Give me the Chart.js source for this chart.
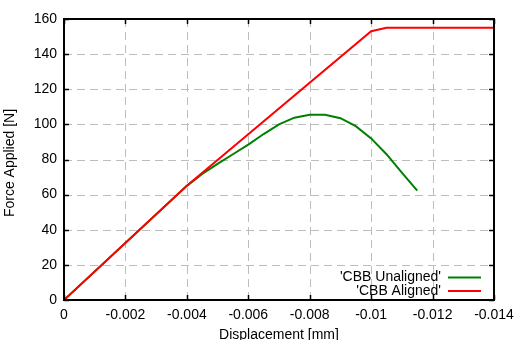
<!DOCTYPE html>
<html>
<head>
<meta charset="utf-8">
<script src="https://cdn.jsdelivr.net/npm/chart.js@4/dist/chart.umd.min.js"></script>
<style>
html,body{margin:0;padding:0;background:#fff;}
#wrap{width:515px;height:340px;position:relative;}
</style>
</head>
<body>
<div id="wrap"><canvas id="c" width="515" height="340"></canvas></div>
<script>
// ---- data ----
const seriesNames = ["'CBB Unaligned'", "'CBB Aligned'"];
const unalignedDisp = [0, -0.004, -0.0045, -0.005, -0.0055, -0.006, -0.0065, -0.007, -0.0075, -0.008, -0.0085, -0.009, -0.0095, -0.01, -0.0105, -0.011, -0.0115];
const unalignedForce = [0, 65, 71.8, 77.5, 83, 88.5, 94.5, 100, 103.8, 105.5, 105.5, 103.5, 99, 92, 83, 72.5, 62.3];
const alignedDisp = [0, -0.004, -0.01, -0.0105, -0.014];
const alignedForce = [0, 65, 153, 155, 155];
const xTickValues = [0, -0.002, -0.004, -0.006, -0.008, -0.01, -0.012, -0.014];
const xTickLabels = ["0", "-0.002", "-0.004", "-0.006", "-0.008", "-0.01", "-0.012", "-0.014"];
const yTickValues = [0, 20, 40, 60, 80, 100, 120, 140, 160];
const yTickLabels = ["0", "20", "40", "60", "80", "100", "120", "140", "160"];
const xTitle = "Displacement [mm]";
const yTitle = "Force Applied [N]";

const FONT = "'Liberation Sans', Arial, sans-serif";
const FSIZE = 14;
const colors = ["#008000", "#ff0000"];

function pts(xs, ys){ return xs.map((x,i)=>({x:x, y:ys[i]})); }

const gridPlugin = {
  id: 'dashgrid',
  beforeDatasetsDraw(chart){
    const ctx = chart.ctx, a = chart.chartArea;
    const xs = chart.scales.x, ys = chart.scales.y;
    ctx.save();
    ctx.strokeStyle = '#bdbdbd';
    ctx.lineWidth = 1;
    ctx.setLineDash([8, 5]);
    xTickValues.forEach(v=>{
      const px = Math.round(xs.getPixelForValue(v)) + 0.5;
      if (px < a.left + 2 || px > a.right - 2) return;
      ctx.beginPath(); ctx.moveTo(px, a.bottom); ctx.lineTo(px, a.top); ctx.stroke();
    });
    yTickValues.forEach(v=>{
      const py = Math.round(ys.getPixelForValue(v)) + 0.5;
      if (py < a.top + 2 || py > a.bottom - 2) return;
      ctx.beginPath(); ctx.moveTo(a.left, py); ctx.lineTo(a.right, py); ctx.stroke();
    });
    ctx.restore();
  }
};

const framePlugin = {
  id: 'frame',
  afterDraw(chart){
    const ctx = chart.ctx, a = chart.chartArea;
    const xs = chart.scales.x, ys = chart.scales.y;
    ctx.save();
    ctx.strokeStyle = '#000';
    ctx.lineWidth = 1.5;
    ctx.setLineDash([]);
    ctx.beginPath();
    xTickValues.forEach(v=>{
      const px = Math.round(xs.getPixelForValue(v)) + 0.5;
      ctx.moveTo(px, a.bottom); ctx.lineTo(px, a.bottom - 5);
      ctx.moveTo(px, a.top); ctx.lineTo(px, a.top + 5);
    });
    yTickValues.forEach(v=>{
      const py = Math.round(ys.getPixelForValue(v)) + 0.5;
      ctx.moveTo(a.left, py); ctx.lineTo(a.left + 5, py);
      ctx.moveTo(a.right, py); ctx.lineTo(a.right - 5, py);
    });
    ctx.stroke();
    ctx.lineWidth = 2;
    ctx.strokeRect(a.left, a.top, a.right - a.left, a.bottom - a.top);
    // axis titles
    ctx.font = FSIZE + "px " + FONT;
    ctx.fillStyle = '#000';
    ctx.textAlign = 'center';
    ctx.textBaseline = 'alphabetic';
    ctx.fillText(xTitle, (a.left + a.right) / 2, 338.5);
    ctx.save();
    ctx.translate(13.5, 163);
    ctx.rotate(-Math.PI / 2);
    ctx.fillText(yTitle, 0, 0);
    ctx.restore();
    // legend
    ctx.textAlign = 'right';
    ctx.textBaseline = 'middle';
    const rows = [277.5, 291];
    chart.data.datasets.forEach((ds)=>{
      const idx = seriesNames.indexOf(ds.label);
      const y = rows[idx];
      ctx.fillStyle = '#000';
      ctx.fillText(ds.label, 441, y);
      ctx.strokeStyle = ds.borderColor;
      ctx.lineWidth = 2;
      ctx.beginPath();
      ctx.moveTo(448, y); ctx.lineTo(481, y);
      ctx.stroke();
    });
    ctx.restore();
  }
};

new Chart(document.getElementById('c'), {
  type: 'line',
  data: {
    datasets: [
      {label: seriesNames[0], data: pts(unalignedDisp, unalignedForce), borderColor: colors[0], borderWidth: 2, pointRadius: 0, fill: false, tension: 0, order: 2},
      {label: seriesNames[1], data: pts(alignedDisp, alignedForce), borderColor: colors[1], borderWidth: 2, pointRadius: 0, fill: false, tension: 0, order: 1}
    ]
  },
  options: {
    responsive: false,
    animation: false,
    events: [],
    layout: {padding: {left: 0, right: 21, top: 19, bottom: 0}},
    plugins: {legend: {display: false}, tooltip: {enabled: false}},
    scales: {
      x: {
        type: 'linear', reverse: true, min: -0.014, max: 0,
        afterBuildTicks(s){ s.ticks = xTickValues.map(v=>({value:v})); },
        afterFit(s){ s.height = 40; s.paddingLeft = 0; s.paddingRight = 0; },
        ticks: {
          color: '#000', font: {family: FONT, size: FSIZE}, padding: 7, maxRotation: 0, autoSkip: false,
          callback(v){ const i = xTickValues.findIndex(t=>Math.abs(t-v)<1e-9); return i>=0 ? xTickLabels[i] : ''; }
        },
        grid: {display: false, drawTicks: false, tickLength: 0},
        border: {display: false}
      },
      y: {
        type: 'linear', min: 0, max: 160,
        afterBuildTicks(s){ s.ticks = yTickValues.map(v=>({value:v})); },
        afterFit(s){ s.width = 64; s.paddingTop = 0; s.paddingBottom = 0; },
        ticks: {
          color: '#000', font: {family: FONT, size: FSIZE}, padding: 7, autoSkip: false,
          callback(v){ const i = yTickValues.indexOf(v); return i>=0 ? yTickLabels[i] : ''; }
        },
        grid: {display: false, drawTicks: false, tickLength: 0},
        border: {display: false}
      }
    }
  },
  plugins: [gridPlugin, framePlugin]
});
</script>
</body>
</html>
